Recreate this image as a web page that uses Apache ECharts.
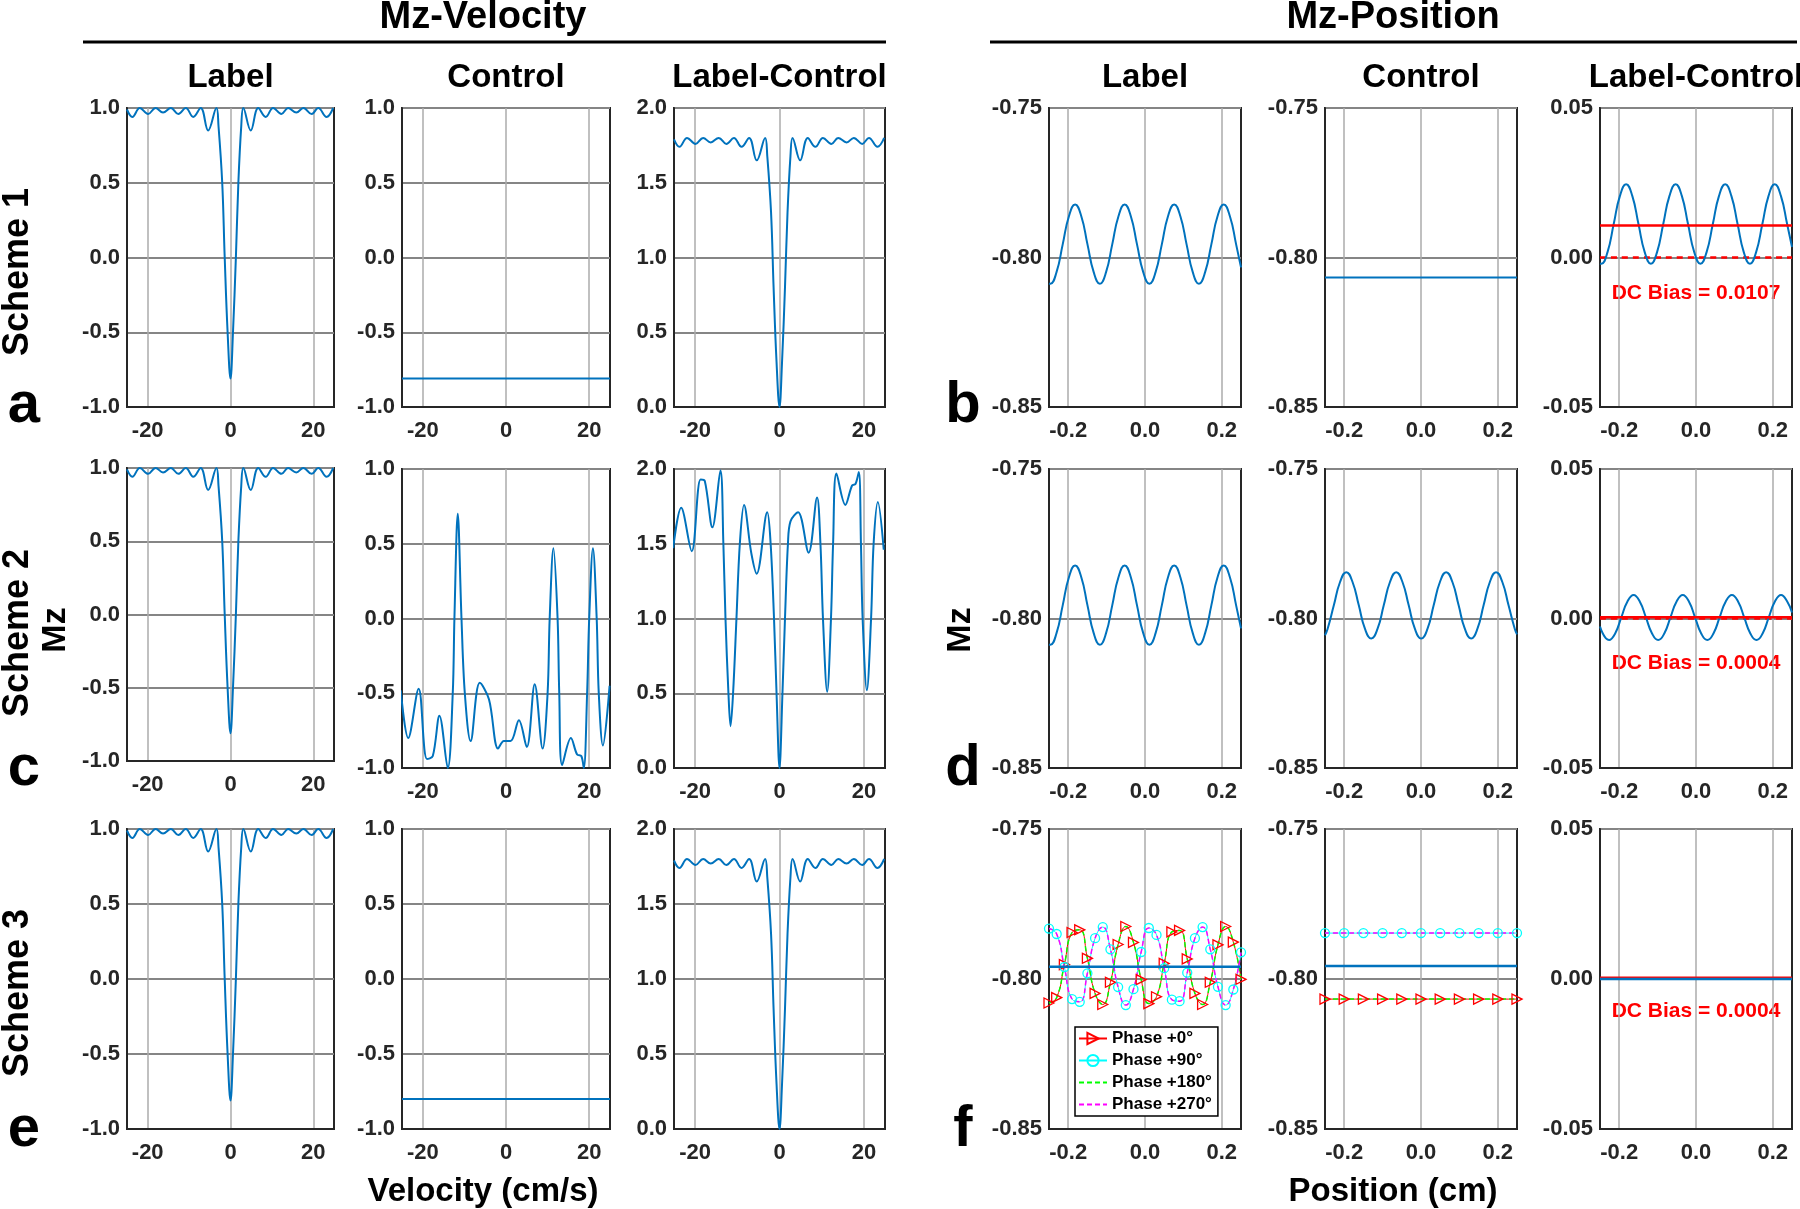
<!DOCTYPE html>
<html><head><meta charset="utf-8">
<script src="https://cdn.jsdelivr.net/npm/echarts@6/dist/echarts.min.js"></script>
<style>html,body{margin:0;padding:0;background:#fff}#c{width:1800px;height:1209px}</style>
</head><body><div id="c"></div>
<script>
// ---------------- DATA ----------------
// Velocity (cm/s) – Label profile (same in all three schemes)
const velLabelX = [-25.0,-23.7,-21.9,-19.9,-18.1,-16.3,-14.4,-12.6,-10.8,-9.0,-7.2,-5.4,-3.4,-2.9,-2.0,-1.4,-0.7,0,0.6,1.3,1.9,2.6,3.1,4.9,6.7,8.5,10.3,12.3,13.9,15.9,17.6,19.6,21.2,23.2,24.8];
const velLabelY = [0.99,0.94,1.0,0.96,1.0,0.97,1.0,0.96,1.0,0.94,1.0,0.85,1.0,0.88,0.5,0.0,-0.5,-0.81,-0.5,0.0,0.5,0.88,1.0,0.85,1.0,0.94,1.0,0.96,1.0,0.97,1.0,0.96,1.0,0.94,1.0];
// Label-Control, schemes 1 and 3
const velLCY = [1.79,1.74,1.80,1.76,1.80,1.77,1.80,1.76,1.80,1.74,1.80,1.65,1.80,1.68,1.30,0.80,0.30,0.0,0.30,0.80,1.30,1.68,1.80,1.65,1.80,1.74,1.80,1.76,1.80,1.77,1.80,1.76,1.80,1.74,1.80];
// Control, schemes 1 and 3 (flat)
const velCtrlX = [-25, 25];
const velCtrl1Y = [-0.81, -0.81];
const velCtrl3Y = [-0.80, -0.80];
// Control, scheme 2
const velCtrl2X = [-25.3,-23.5,-21.0,-19.0,-17.6,-16.0,-14.0,-12.8,-12.4,-11.6,-10.7,-9.9,-8.5,-6.3,-4.1,-1.9,-0.5,1.1,3.1,5.0,6.9,8.8,10.0,10.5,11.4,12.4,12.8,13.5,15.6,17.1,18.1,18.7,19.5,20.0,20.9,21.8,22.3,23.3,24.9];
const velCtrl2Y = [-0.48,-0.80,-0.47,-0.94,-0.92,-0.65,-1.0,-0.5,0.0,0.70,0.0,-0.5,-0.82,-0.43,-0.54,-0.87,-0.82,-0.82,-0.68,-0.86,-0.44,-0.87,-0.5,0.0,0.47,0.0,-0.5,-0.98,-0.80,-0.91,-0.92,-1.0,-0.5,0.0,0.47,0.0,-0.5,-0.85,-0.45];
// Label-Control, scheme 2
const velLC2X = [-25.2,-23.3,-20.8,-18.7,-17.7,-15.9,-14.0,-13.3,-12.8,-12.1,-11.6,-11.0,-10.2,-9.4,-8.4,-6.7,-5.4,-2.9,-2.1,-1.3,-0.7,0,0.7,1.3,2.0,2.6,4.4,6.9,8.9,9.7,10.3,11.3,12.2,12.7,13.5,15.6,17.2,18.0,18.8,19.3,19.7,20.7,21.7,22.3,23.3,24.7];
const velLC2Y = [1.47,1.74,1.45,1.93,1.92,1.61,1.99,1.5,1.0,0.5,0.28,0.5,1.0,1.5,1.76,1.44,1.30,1.71,1.5,1.0,0.5,0.0,0.5,1.0,1.5,1.65,1.71,1.44,1.81,1.5,1.0,0.51,1.0,1.5,1.97,1.76,1.89,1.90,1.98,1.5,1.0,0.52,1.0,1.5,1.78,1.46];

// Position (cm) – sample positions read for Label (schemes 1,2) and Label-Control (scheme 1)
const posLabelX = [-0.25,-0.2465,-0.2304,-0.2143,-0.1981,-0.1820,-0.1659,-0.1498,-0.1336,-0.1175,-0.1014,-0.0853,-0.0691,-0.0530,-0.0369,-0.0208,-0.0046,0.0115,0.0276,0.0438,0.0599,0.0760,0.0921,0.1083,0.1244,0.1405,0.1566,0.1728,0.1889,0.2050,0.2211,0.2373,0.25];
const posLabelY = [-0.8087,-0.8088,-0.8049,-0.7956,-0.7862,-0.7823,-0.7862,-0.7956,-0.8049,-0.8088,-0.8049,-0.7956,-0.7862,-0.7823,-0.7862,-0.7956,-0.8049,-0.8088,-0.8049,-0.7956,-0.7862,-0.7823,-0.7862,-0.7956,-0.8049,-0.8088,-0.8049,-0.7956,-0.7862,-0.7823,-0.7862,-0.7956,-0.8033];
// Control scheme 1 (flat)
const posFlatX = [-0.25, 0.25];
const posCtrl1Y = [-0.8067, -0.8067];
// Label-Control scheme 1
const posLC1X = posLabelX;
const posLC1Y = [-0.0020,-0.0021,0.0018,0.0112,0.0206,0.0245,0.0206,0.0112,0.0018,-0.0021,0.0018,0.0112,0.0206,0.0245,0.0206,0.0112,0.0018,-0.0021,0.0018,0.0112,0.0206,0.0245,0.0206,0.0112,0.0018,-0.0021,0.0018,0.0112,0.0206,0.0245,0.0206,0.0112,0.0035];
// Control scheme 2
const posCtrl2X = [-0.25,-0.2433,-0.2270,-0.2108,-0.1945,-0.1783,-0.1620,-0.1458,-0.1295,-0.1133,-0.0970,-0.0808,-0.0645,-0.0483,-0.0320,-0.0158,0.0005,0.0168,0.0330,0.0493,0.0655,0.0818,0.0980,0.1143,0.1305,0.1468,0.1630,0.1793,0.1955,0.2118,0.2280,0.2443,0.25];
const posCtrl2Y = [-0.8056,-0.8035,-0.7956,-0.7878,-0.7845,-0.7878,-0.7956,-0.8035,-0.8067,-0.8035,-0.7956,-0.7878,-0.7845,-0.7878,-0.7956,-0.8035,-0.8067,-0.8035,-0.7956,-0.7878,-0.7845,-0.7878,-0.7956,-0.8035,-0.8067,-0.8035,-0.7956,-0.7878,-0.7845,-0.7878,-0.7956,-0.8035,-0.8053];
// Label-Control scheme 2
const posLC2X = [-0.25,-0.2265,-0.2105,-0.1945,-0.1785,-0.1625,-0.1465,-0.1305,-0.1145,-0.0985,-0.0825,-0.0665,-0.0505,-0.0345,-0.0185,-0.0025,0.0135,0.0295,0.0455,0.0615,0.0775,0.0935,0.1095,0.1255,0.1415,0.1575,0.1735,0.1895,0.2055,0.2215,0.2375,0.25];
const posLC2Y = [-0.0027,-0.0072,-0.0050,0.0004,0.0057,0.0079,0.0057,0.0004,-0.0050,-0.0072,-0.0050,0.0004,0.0057,0.0079,0.0057,0.0004,-0.0050,-0.0072,-0.0050,0.0004,0.0057,0.0079,0.0057,0.0004,-0.0050,-0.0072,-0.0050,0.0004,0.0057,0.0079,0.0057,0.0020];
// DC bias lines
const dcBias = [0.0107, 0.0004, 0.0004];
const dcBiasText = ['DC Bias = 0.0107', 'DC Bias = 0.0004', 'DC Bias = 0.0004'];
const zeroY = [0, 0];

// Scheme 3 – four phases (Label)
const phaseX = [-0.25,-0.23,-0.21,-0.19,-0.17,-0.15,-0.13,-0.11,-0.09,-0.07,-0.05,-0.03,-0.01,0.01,0.03,0.05,0.07,0.09,0.11,0.13,0.15,0.17,0.19,0.21,0.23,0.25];
const phase0Y = [-0.8080,-0.8062,-0.7952,-0.7845,-0.7836,-0.7931,-0.8048,-0.8085,-0.8011,-0.7885,-0.7825,-0.7878,-0.8002,-0.8082,-0.8059,-0.7948,-0.7843,-0.7838,-0.7933,-0.8048,-0.8085,-0.8011,-0.7886,-0.7825,-0.7877,-0.8001];
const phase90Y = [-0.7832,-0.7850,-0.7960,-0.8067,-0.8076,-0.7981,-0.7864,-0.7827,-0.7901,-0.8027,-0.8087,-0.8034,-0.7910,-0.7830,-0.7853,-0.7964,-0.8069,-0.8074,-0.7979,-0.7864,-0.7827,-0.7901,-0.8026,-0.8087,-0.8035,-0.7911];
const phase180Y = phase0Y;
const phase270Y = phase90Y;
const avg3Y = [-0.7959, -0.7959];
// Scheme 3 – Control
const ctrlMarkX = [-0.25,-0.20,-0.15,-0.10,-0.05,0.0,0.05,0.10,0.15,0.20,0.25];
const ctrl3OddY = [-0.7847,-0.7847,-0.7847,-0.7847,-0.7847,-0.7847,-0.7847,-0.7847,-0.7847,-0.7847,-0.7847];
const ctrl3EvenY = [-0.8067,-0.8067,-0.8067,-0.8067,-0.8067,-0.8067,-0.8067,-0.8067,-0.8067,-0.8067,-0.8067];
const ctrl3AvgY = [-0.7957, -0.7957];
// Scheme 3 – Label-Control
const lc3Y = [0.0, 0.0];

const phaseNames = ['Phase +0°', 'Phase +90°', 'Phase +180°', 'Phase +270°'];
const colTitles = ['Label', 'Control', 'Label-Control', 'Label', 'Control', 'Label-Control'];
const rowTitles = ['Scheme 1', 'Scheme 2', 'Scheme 3'];
const panelLetters = ['a', 'b', 'c', 'd', 'e', 'f'];
const velTicks = [-20, 0, 20];
const posTicks = [-0.2, 0, 0.2];

// ---------------- LAYOUT / STYLE ----------------
const F = '"Liberation Sans", Arial, Helvetica, sans-serif';
const BLUE = '#0072BD', RED = '#FF0000';
const cols = [[127,207],[402,208],[674,211],[1049,192],[1325,192],[1600,192]];
const rows = [[108,299],[469,299],[829,300]];
const yCfg = [
  {min:-1, max:1, interval:0.5, dec:1},
  {min:-1, max:1, interval:0.5, dec:1},
  {min:0, max:2, interval:0.5, dec:1},
  {min:-0.85, max:-0.75, interval:0.05, dec:2},
  {min:-0.85, max:-0.75, interval:0.05, dec:2},
  {min:-0.05, max:0.05, interval:0.05, dec:2}
];

const grids = [], xAxes = [], yAxes = [], series = [];
const lblStyle = {fontSize:22, fontWeight:'bold', fontFamily:F, color:'#262626'};
for (let r = 0; r < 3; r++) {
  for (let c = 0; c < 6; c++) {
    const gi = r * 6 + c;
    let top = rows[r][0], h = rows[r][1];
    if (r === 1 && c === 0) { top = 468; h = 293; }
    grids.push({left: cols[c][0], top: top, width: cols[c][1], height: h,
      show: true, borderColor: '#262626', borderWidth: 2, backgroundColor: '#fff'});
    const isVel = c < 3;
    const ticks = isVel ? velTicks : posTicks;
    xAxes.push({type:'value', gridIndex: gi,
      min: isVel ? -25 : -0.25, max: isVel ? 25 : 0.25,
      axisLine:{show:true, onZero:false, lineStyle:{color:'#262626', width:2}},
      axisTick:{show:false, customValues: ticks},
      axisLabel:{...lblStyle, margin: 13, customValues: ticks,
        formatter: v => isVel ? String(Math.round(v)) : Number(v).toFixed(1)},
      splitLine:{show:true, lineStyle:{color:'#ababab', width:1.5}}
    });
    const yc = yCfg[c];
    yAxes.push({type:'value', gridIndex: gi, min: yc.min, max: yc.max, interval: yc.interval,
      axisLine:{show:true, onZero:false, lineStyle:{color:'#262626', width:2}},
      axisTick:{show:false},
      axisLabel:{...lblStyle, margin: 7, formatter: v => Number(v).toFixed(yc.dec)},
      splitLine:{show:true, lineStyle:{color:'#858585', width:2}}
    });
  }
}

function ln(gi, xs, ys, o) {
  return Object.assign({
    type:'line', xAxisIndex: gi, yAxisIndex: gi,
    data: xs.map((x, i) => [x, ys[i]]),
    showSymbol:false, symbol:'none', smooth:0.5,
    lineStyle:{color: BLUE, width: 2}, itemStyle:{color: BLUE},
    silent:true, animation:false, z:3
  }, o || {});
}
function phaseSeries(gi, xs, ys, idx, withMarkers) {
  const clr = ['#FF0000', '#00FFFF', '#00FF00', '#FF00FF'][idx];
  const o = {name: phaseNames[idx], smooth: 0.5,
    lineStyle:{color: clr, width: idx < 2 ? 1 : 1.5, type: idx < 2 ? 'solid' : [5, 3]}};
  if (idx < 2) {
    o.symbol = idx === 0 ? 'triangle' : 'circle';
    o.symbolRotate = idx === 0 ? -90 : 0;
    o.symbolSize = idx === 0 ? 10 : 9;
    o.showSymbol = withMarkers;
    o.itemStyle = {color:'rgba(255,255,255,0)', borderColor: clr, borderWidth: 1.3};
  } else {
    o.symbol = 'circle';
    o.symbolSize = 1;
    o.showSymbol = false;
    o.itemStyle = {color:'rgba(255,255,255,0)', borderColor:'rgba(255,255,255,0)', borderWidth:0};
  }
  return ln(gi, xs, ys, o);
}

// Row 1 (Scheme 1)
series.push(ln(0, velLabelX, velLabelY, {smooth:0.4}));
series.push(ln(1, velCtrlX, velCtrl1Y));
series.push(ln(2, velLabelX, velLCY, {smooth:0.4}));
series.push(ln(3, posLabelX, posLabelY));
series.push(ln(4, posFlatX, posCtrl1Y));
series.push(ln(5, posFlatX, zeroY, {lineStyle:{color:RED, width:2.5, type:[6,5]}, z:2}));
series.push(ln(5, posFlatX, [dcBias[0], dcBias[0]], {lineStyle:{color:RED, width:2.5}, z:4}));
series.push(ln(5, posLC1X, posLC1Y));
// Row 2 (Scheme 2)
series.push(ln(6, velLabelX, velLabelY, {smooth:0.4}));
series.push(ln(7, velCtrl2X, velCtrl2Y, {smooth:0.35}));
series.push(ln(8, velLC2X, velLC2Y, {smooth:0.35}));
series.push(ln(9, posLabelX, posLabelY));
series.push(ln(10, posCtrl2X, posCtrl2Y));
series.push(ln(11, posFlatX, zeroY, {lineStyle:{color:RED, width:2.5, type:[6,5]}, z:2}));
series.push(ln(11, posFlatX, [dcBias[1], dcBias[1]], {lineStyle:{color:RED, width:2.5}, z:4}));
series.push(ln(11, posLC2X, posLC2Y));
// Row 3 (Scheme 3)
series.push(ln(12, velLabelX, velLabelY, {smooth:0.4}));
series.push(ln(13, velCtrlX, velCtrl3Y));
series.push(ln(14, velLabelX, velLCY, {smooth:0.4}));
series.push(phaseSeries(15, phaseX, phase0Y, 0, true));
series.push(phaseSeries(15, phaseX, phase90Y, 1, true));
series.push(phaseSeries(15, phaseX, phase180Y, 2, false));
series.push(phaseSeries(15, phaseX, phase270Y, 3, false));
series.push(ln(15, posFlatX, avg3Y, {lineStyle:{color:BLUE, width:2.5}, z:5}));
series.push(phaseSeries(16, ctrlMarkX, ctrl3EvenY, 0, true));
series.push(phaseSeries(16, ctrlMarkX, ctrl3OddY, 1, true));
series.push(phaseSeries(16, ctrlMarkX, ctrl3EvenY, 2, false));
series.push(phaseSeries(16, ctrlMarkX, ctrl3OddY, 3, false));
series.push(ln(16, posFlatX, ctrl3AvgY, {lineStyle:{color:BLUE, width:2.5}, z:5}));
series.push(ln(17, posFlatX, [dcBias[2], dcBias[2]], {lineStyle:{color:RED, width:2.5}, z:2}));
series.push(ln(17, posFlatX, lc3Y, {lineStyle:{color:BLUE, width:2.5}, z:5}));

// ---------------- GRAPHIC (titles, labels) ----------------
const g = [];
function txt(x, y, s, size, o, fill) {
  g.push(Object.assign({type:'text', x:x, y:y, silent:true,
    style:{text:s, fontSize:size, fontWeight:'bold', fontFamily:F, fill: fill || '#000',
      align:'center', verticalAlign:'middle'}}, o || {}));
}
txt(483, 18, 'Mz-Velocity', 38);
txt(1393, 18, 'Mz-Position', 38);
g.push({type:'line', silent:true, shape:{x1:83, y1:42, x2:886, y2:42}, style:{stroke:'#000', lineWidth:3}});
g.push({type:'line', silent:true, shape:{x1:990, y1:42, x2:1797, y2:42}, style:{stroke:'#000', lineWidth:3}});
for (let c = 0; c < 6; c++) txt(cols[c][0] + cols[c][1] / 2, 78, colTitles[c], 33);
const rowCenters = [272, 633, 993];
for (let r = 0; r < 3; r++) txt(18, rowCenters[r], rowTitles[r], 36, {rotation: Math.PI / 2});
txt(56, 630, 'Mz', 34, {rotation: Math.PI / 2});
txt(961, 630, 'Mz', 34, {rotation: Math.PI / 2});
const letterY = [406, 769, 1130];
for (let r = 0; r < 3; r++) {
  txt(24, letterY[r], panelLetters[r * 2], 58);
  txt(963, letterY[r], panelLetters[r * 2 + 1], 58);
}
txt(483, 1192, 'Velocity (cm/s)', 33);
txt(1393, 1192, 'Position (cm)', 33);
const dcY = [293, 663, 1011];
for (let r = 0; r < 3; r++) txt(1696, dcY[r], dcBiasText[r], 21, null, RED);

const chart = echarts.init(document.getElementById('c'), null, {renderer:'canvas'});
chart.setOption({
  backgroundColor:'#fff',
  animation:false,
  grid: grids, xAxis: xAxes, yAxis: yAxes, series: series,
  legend: {data: phaseNames, orient:'vertical', left:1075, top:1027,
    itemWidth:28, itemHeight:14, itemGap:5, padding:[3,6,3,3],
    borderColor:'#000', borderWidth:1.5, backgroundColor:'#fff', borderRadius:0,
    selectedMode:false, z:20,
    textStyle:{fontSize:17, fontWeight:'bold', fontFamily:F, color:'#000'}},
  graphic: g
});
</script>
</body></html>
